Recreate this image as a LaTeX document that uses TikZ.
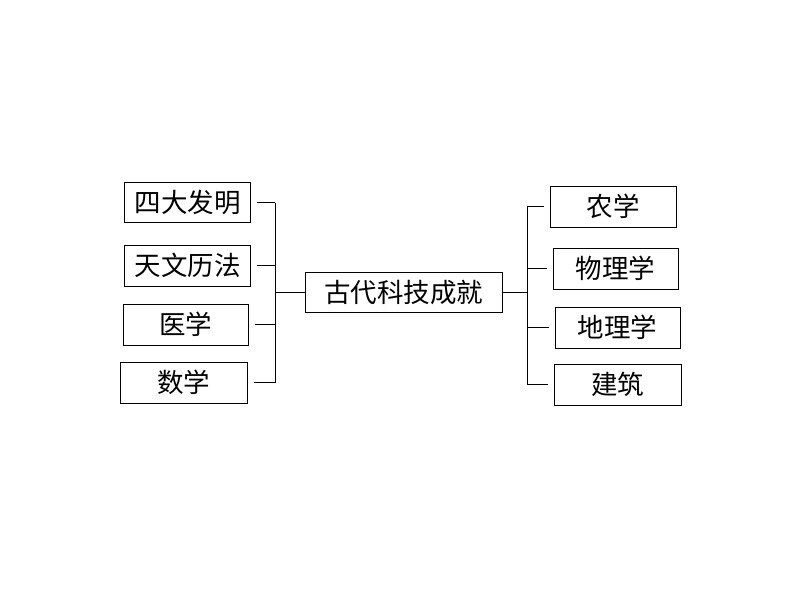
\documentclass[tikz,border=0pt]{standalone}
\usepackage{fontspec}
\newfontfamily\cjk{Noto Sans CJK SC}
\begin{document}
\begin{tikzpicture}[x=1pt,y=-1pt,
  box/.style={draw=black,line width=1pt,inner sep=0pt,font=\cjk\fontsize{26.5}{30}\selectfont,text=black},
  wire/.style={draw=black,line width=1pt}]
\useasboundingbox (0,0) rectangle (800,600);
\node[box,minimum width=126pt,minimum height=40pt] (A) at (187.5,202.5) {四大发明};
\node[box,minimum width=126pt,minimum height=41pt] (B) at (187.5,265.5) {天文历法};
\node[box,minimum width=125pt,minimum height=41pt] (C) at (185.5,324.5) {医学};
\node[box,minimum width=127pt,minimum height=41pt] (D) at (183.5,382.5) {数学};
\node[box,minimum width=197pt,minimum height=40pt] (M) at (403.5,292) {古代科技成就};
\node[box,minimum width=126pt,minimum height=41pt] (E) at (613,206.5) {农学};
\node[box,minimum width=125pt,minimum height=41pt] (F) at (615.5,268.5) {物理学};
\node[box,minimum width=125pt,minimum height=41pt] (G) at (617.5,327.5) {地理学};
\node[box,minimum width=127pt,minimum height=41pt] (H) at (617.5,384.5) {建筑};
\coordinate (lbus) at (275,292);
\coordinate (rbus) at (527,292);
% left bracket
\foreach \n in {A,B,C,D}{
  \draw[wire] ([xshift=6pt]\n.east) -- (\n.east -| lbus);
}
\draw[wire] (A.east -| lbus) -- (D.east -| lbus);
\draw[wire] (lbus |- M.west) -- (M.west);
% right bracket
\draw[wire] (M.east) -- (M.east -| rbus);
\draw[wire] (E.west -| rbus) -- (H.west -| rbus);
\foreach \n in {E,F,G,H}{
  \draw[wire] (\n.west -| rbus) -- ([xshift=-6pt]\n.west);
}
\end{tikzpicture}
\end{document}
